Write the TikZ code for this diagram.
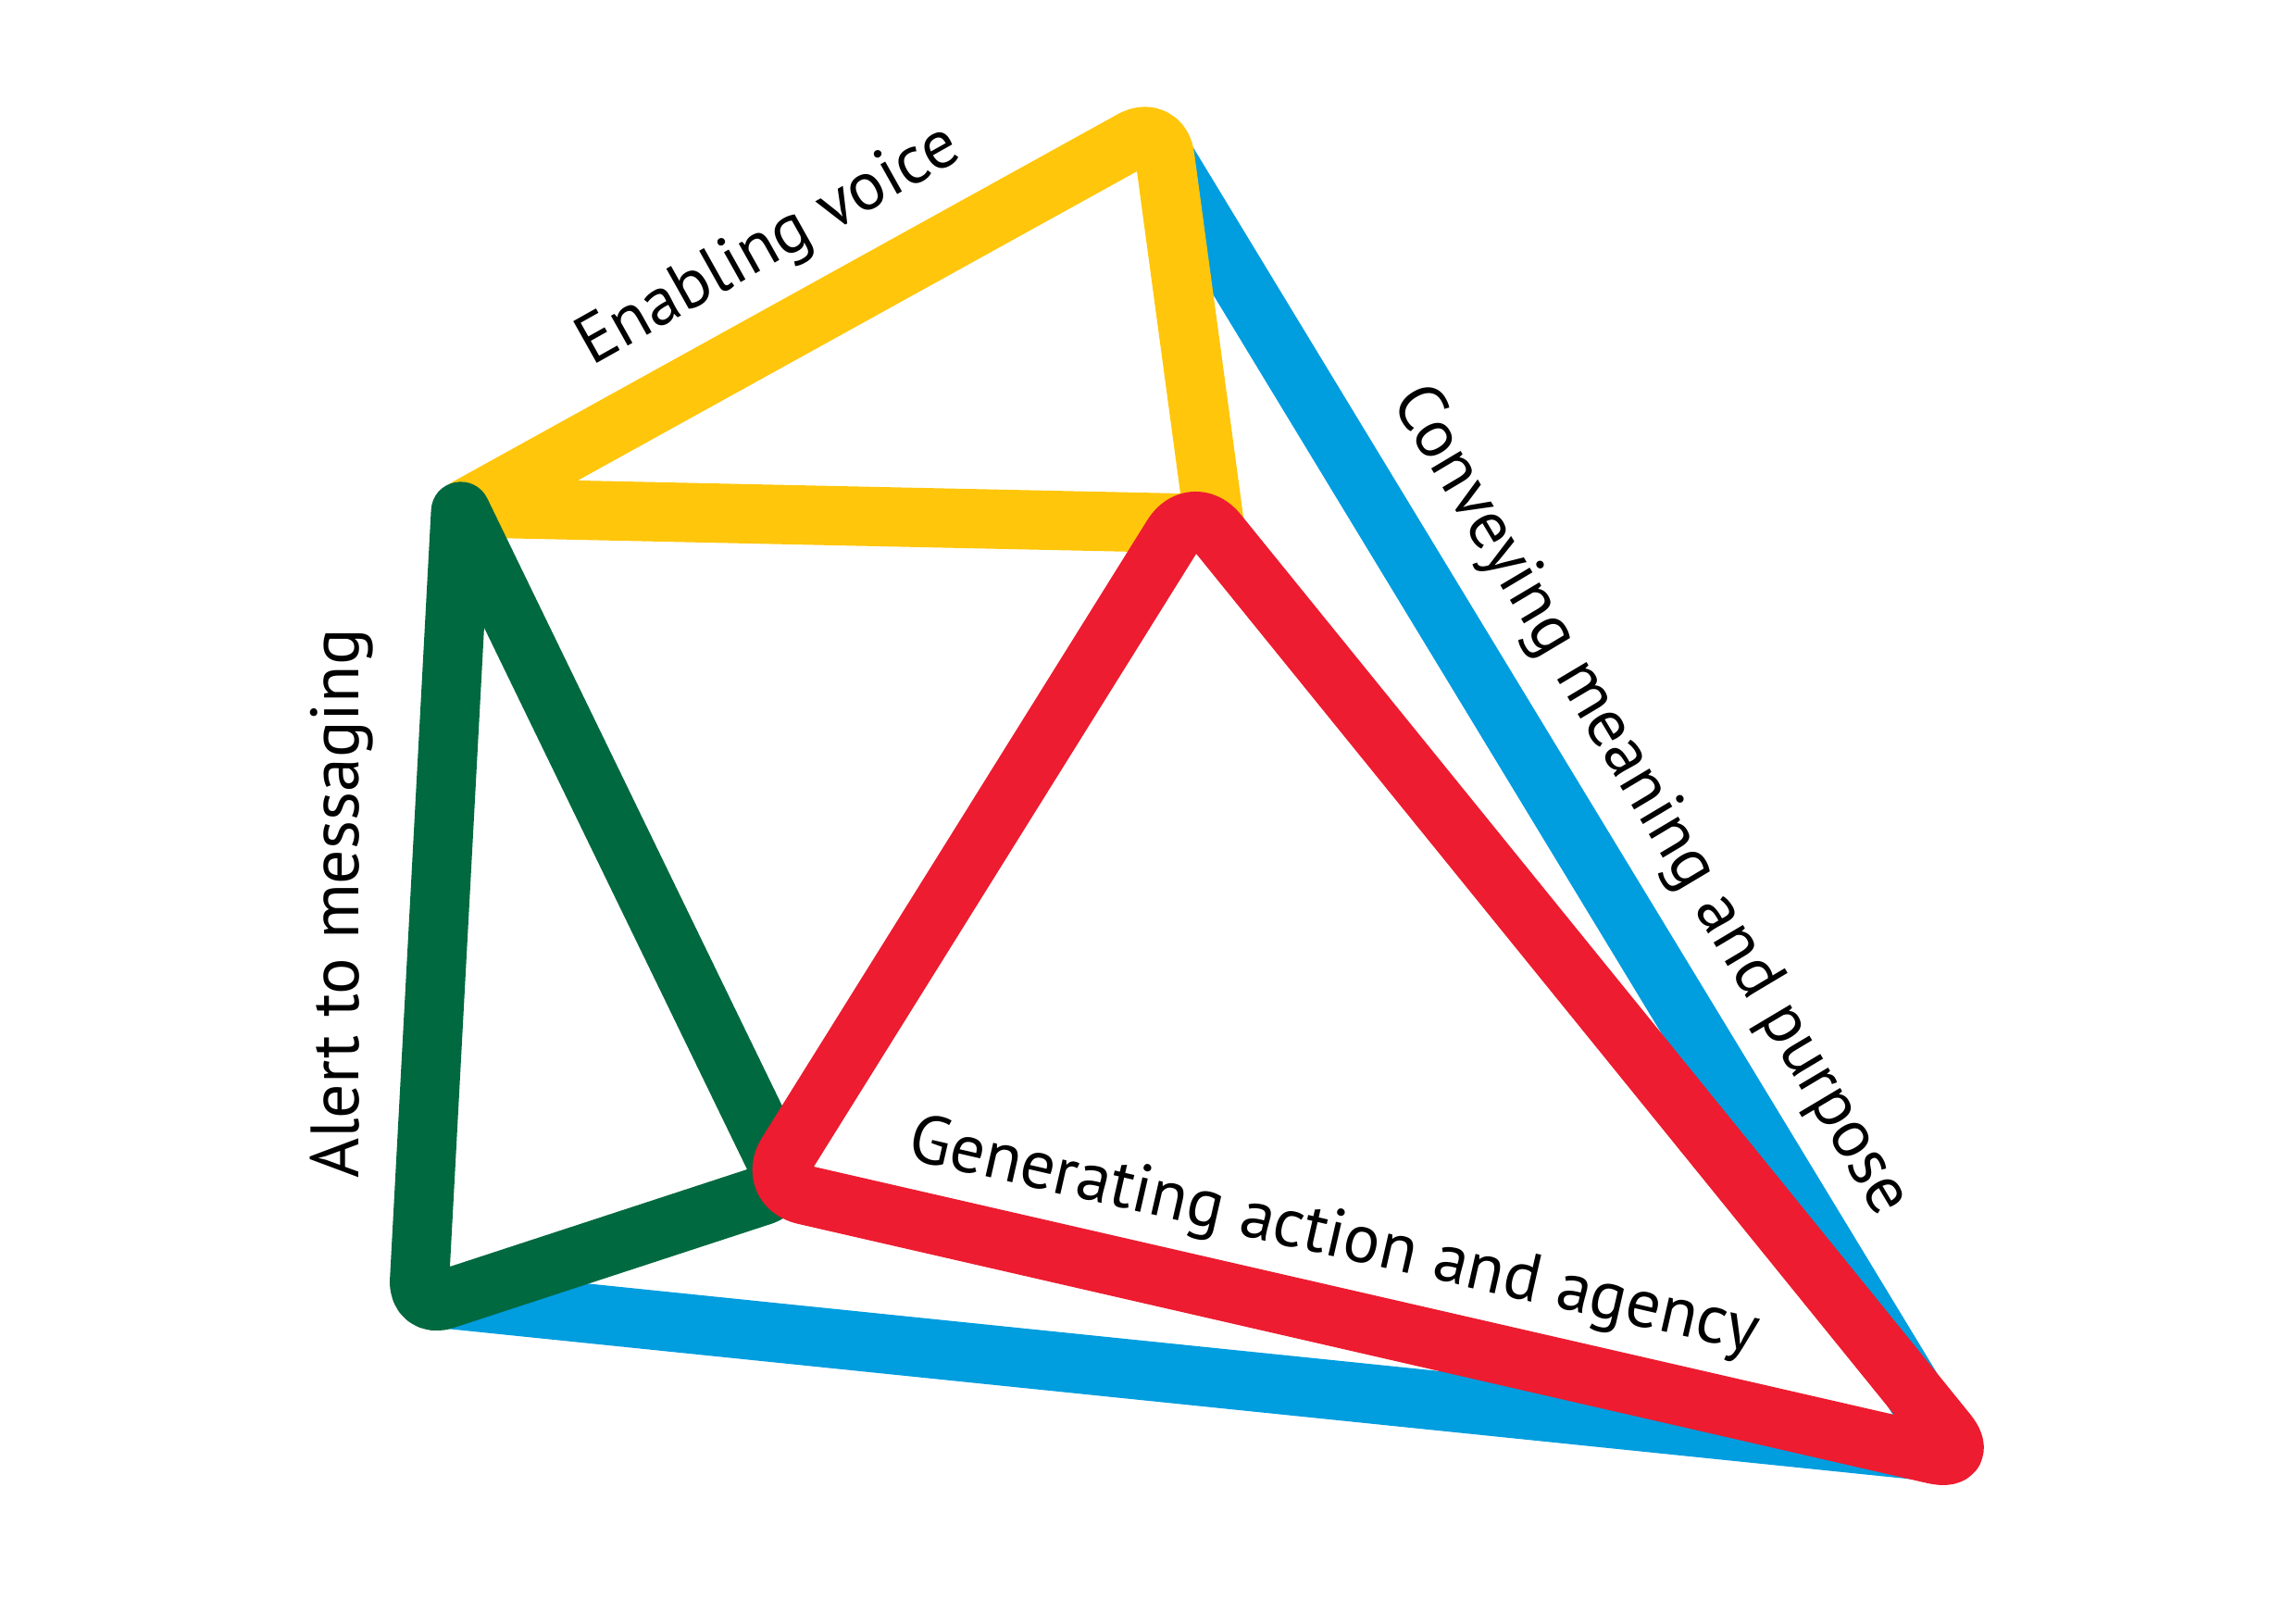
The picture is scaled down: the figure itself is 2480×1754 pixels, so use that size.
\documentclass[tikz,border=0pt]{standalone}
\usepackage{fontspec}
\setmainfont{PT Sans}
\definecolor{diagYellow}{HTML}{FFC60B}
\definecolor{diagGreen}{HTML}{006940}
\definecolor{diagBlue}{HTML}{009DDF}
\definecolor{diagRed}{HTML}{ED1C30}
\usetikzlibrary{calc}
\tikzset{
	banda/.style={
		line width=0.64cm,
		line join=round
	},
	texto/.style={
		anchor=base,
		inner sep=0pt,
		font=\fontsize{21pt}{25pt}\selectfont
	}
}
\begin{document}
\begin{tikzpicture}[x=0.01cm, y=-0.01cm]
		\useasboundingbox (0,0) rectangle (2480,1754);
		\coordinate (Btop) at (1253,162);
		\coordinate (Bcorner) at (2107.4,1569.8);
		\coordinate (Bleft) at (472,1401.8);
		\coordinate (Ytop) at (1253.5,134.4);
		\coordinate (Yright) at (1311.7,565.8);
		\coordinate (Yleft) at (504.6,548.4);
		\coordinate (Gtop) at (497.6,552.4);
		\coordinate (Gleft) at (451.5,1413);
		\coordinate (Gright) at (851.8,1282);
		\coordinate (Rtop) at (1288.7,543);
		\coordinate (Rleft) at (828.1,1281.2);
		\coordinate (Rright) at (2129.5,1580);
		\draw[banda, diagBlue, rounded corners=4mm] (Btop) -- (Bcorner) -- (Bleft);
		\draw[banda, diagYellow] ($(Yleft)!0.5!(Yright)$) -- (Yleft) [rounded corners=3.5mm] -- (Ytop) [sharp corners] -- (Yright) -- cycle;
		\draw[banda, diagGreen] ($(Gtop)!0.5!(Gleft)$) [rounded corners=3mm] -- (Gleft) -- (Gright) [sharp corners] -- (Gtop) -- cycle;
		\draw[banda, diagRed, rounded corners=4.2mm] ($(Rleft)!0.5!(Rright)$) -- (Rleft) -- (Rtop) -- (Rright) -- cycle;
		\node[texto, rotate=29.3] (voice) at (840,283) {Enabling voice};
		\node[texto, rotate=-59.2] (meaning) at (1766,875) {Conveying meaning and purpose};
		\node[texto, rotate=90] (alert) at (387,976) {Alert to messaging};
		\node[texto, rotate=-12.9] (action) at (1436,1356) {Generating action and agency};
	\end{tikzpicture}
\end{document}
